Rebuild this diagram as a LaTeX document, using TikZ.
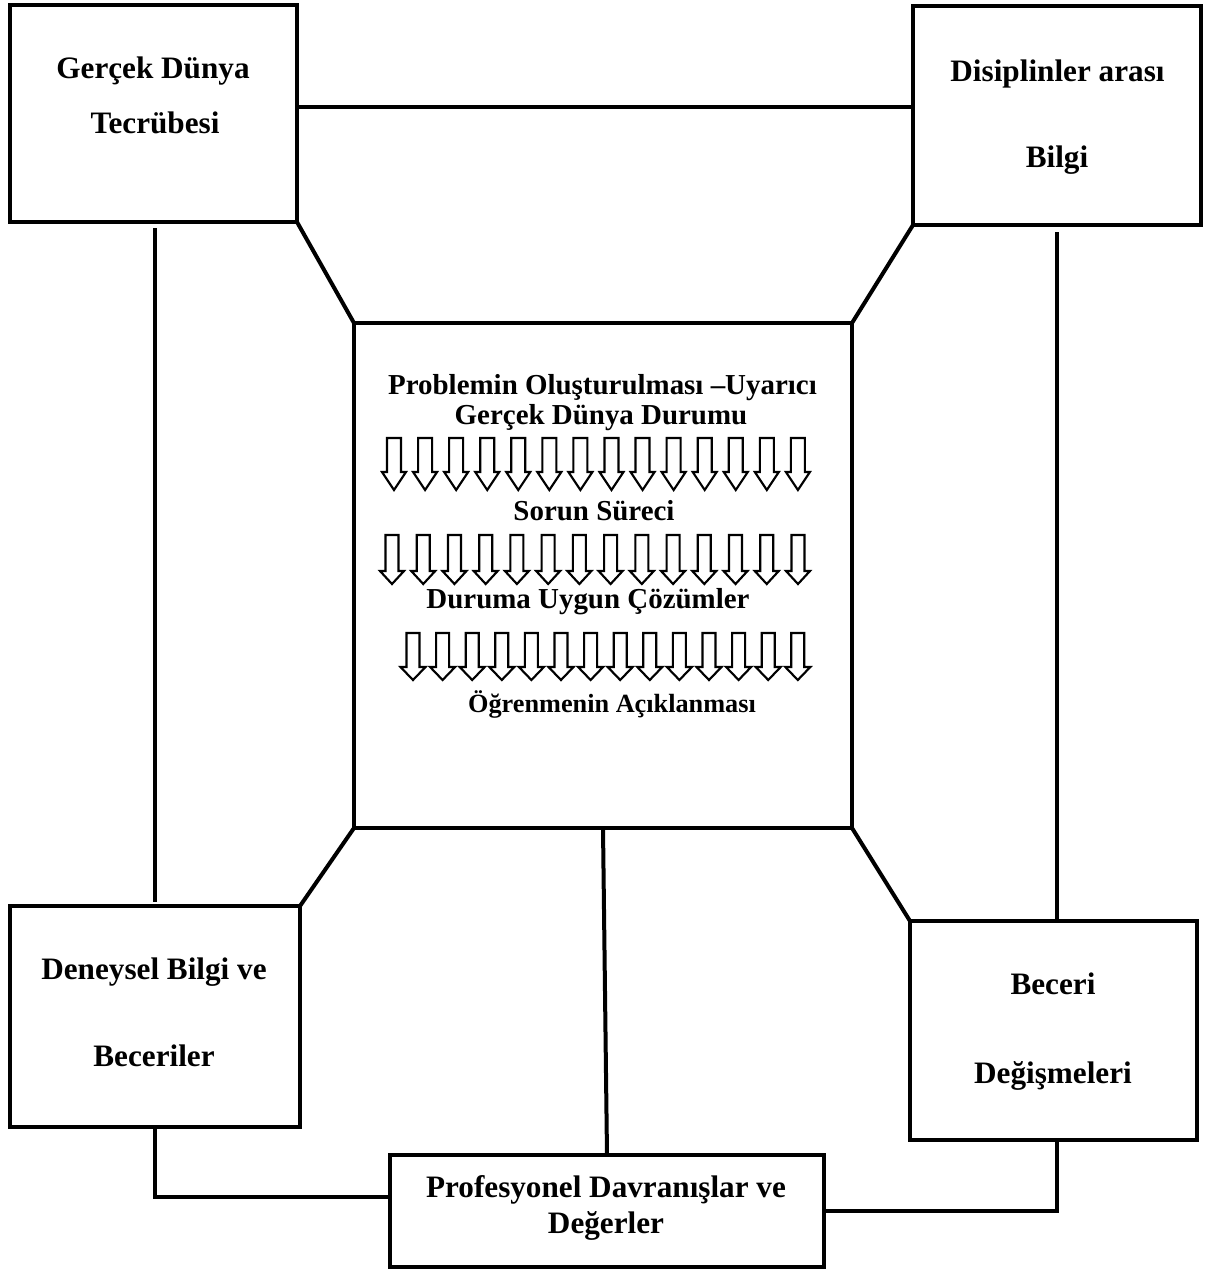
\documentclass[tikz,border=0pt]{standalone}
\usepackage{fontspec}
\setmainfont{Liberation Serif}
\usetikzlibrary{calc}

\tikzset{
  box/.style={draw, rectangle, line width=3pt, inner sep=0pt, outer sep=0pt},
  link/.style={line width=3pt},
  boxtext/.style={font=\fontsize{23.4}{28}\selectfont\bfseries, anchor=base, inner sep=0pt},
  flowtext/.style={font=\fontsize{21.7}{26}\selectfont\bfseries, anchor=base, inner sep=0pt},
  smallflowtext/.style={font=\fontsize{19.7}{24}\selectfont\bfseries, anchor=base, inner sep=0pt},
  downarrow/.style={draw, line width=1.6pt, fill=white, line join=miter}
}

% one row of 14 hollow down arrows:
% #1 first centre x, #2 pitch, #3 top, #4 head start, #5 tip, #6 shaft half width, #7 head half width
\newcommand\arrowrow[7]{%
  \foreach \i in {0,...,13}{%
    \pgfmathsetmacro\cx{#1+#2*\i}%
    \draw[downarrow] (\cx-#6,#3) -- (\cx+#6,#3) -- (\cx+#6,#4) -- (\cx+#7,#4)
      -- (\cx,#5) -- (\cx-#7,#4) -- (\cx-#6,#4) -- cycle;
  }%
}

\begin{document}
\begin{tikzpicture}[x=0.75pt, y=-0.75pt]
  \useasboundingbox (0,0) rectangle (1219,1272);

  % boxes
  \node[box, minimum width=215.25pt, minimum height=162.75pt] (tl) at (153.5,113.5) {};
  \node[box, minimum width=216pt,    minimum height=164.25pt] (tr) at (1057,115.5) {};
  \node[box, minimum width=373.5pt,  minimum height=378.75pt] (ctr) at (603,575.5) {};
  \node[box, minimum width=217.5pt,  minimum height=165.75pt] (bl) at (155,1016.5) {};
  \node[box, minimum width=215.25pt, minimum height=164.25pt] (br) at (1053.5,1030.5) {};
  \node[box, minimum width=325.5pt,  minimum height=84pt]     (pf) at (607,1211) {};

  % connectors
  \draw[link] (tl.east |- 0,107) -- (tr.west |- 0,107);
  \draw[link] (tl.south east) -- (ctr.north west);
  \draw[link] (tr.south west) -- (ctr.north east);
  \draw[link] (ctr.south west) -- (bl.north east);
  \draw[link] (ctr.south east) -- (br.north west);
  \draw[link] ($(tl.south -| bl.north)+(0,6)$) -- ($(bl.north)+(0,-4)$);
  \draw[link] ($(tr.south)+(0,7)$) -- (tr.south |- br.north);
  \draw[link] (ctr.south) -- (pf.north);
  \draw[link] ($(bl.south)+(0,2)$) |- ([yshift=10.5pt]pf.west);
  \draw[link] ([xshift=2.6pt]br.south) |- (pf.east);

  % box labels
  \node[boxtext] (tla) at (153,78)    {Gerçek Dünya};
  \node[boxtext] (tlb) at (155,133)   {Tecrübesi};
  \node[boxtext] (tra) at (1057.5,81) {Disiplinler arası};
  \node[boxtext] (trb) at (1057,167)  {Bilgi};
  \node[boxtext] (bla) at (154,979)   {Deneysel Bilgi ve};
  \node[boxtext] (blb) at (154,1066)  {Beceriler};
  \node[boxtext] (bra) at (1053,994)  {Beceri};
  \node[boxtext] (brb) at (1053,1083) {Değişmeleri};
  \node[boxtext] (pfa) at (606,1197)  {Profesyonel Davranışlar ve};
  \node[boxtext] (pfb) at (606,1233)  {Değerler};

  % process inside the centre box
  \node[flowtext] (s1a) at (602.5,394) {Problemin Oluşturulması –Uyarıcı};
  \node[flowtext] (s1b) at (601,424)   {Gerçek Dünya Durumu};
  \arrowrow{394}{31.07}{438}{472}{490}{7}{12}
  \node[flowtext] (s2) at (594,520)    {Sorun Süreci};
  \arrowrow{392}{31.23}{535}{571}{584}{6.5}{12}
  \node[flowtext] (s3) at (588,608)    {Duruma Uygun Çözümler};
  \arrowrow{413}{29.6}{633}{667}{680}{6.5}{12.5}
  \node[smallflowtext] (s4) at (612,712) {Öğrenmenin Açıklanması};
\end{tikzpicture}
\end{document}
